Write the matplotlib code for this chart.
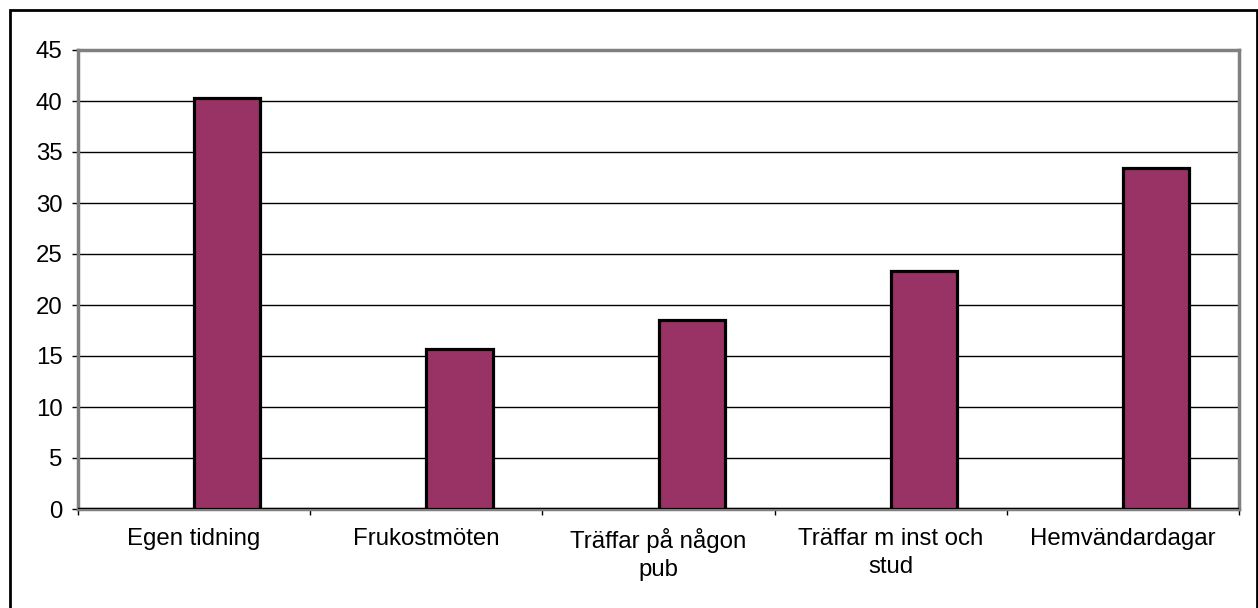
import numpy as np
import matplotlib
matplotlib.use('Agg')
import matplotlib.pyplot as plt
from matplotlib.patches import Rectangle

plt.rc('font', family=['Liberation Sans', 'DejaVu Sans'], size=17.3)

categories = ['Egen tidning', 'Frukostmöten', 'Träffar på någon\npub',
              'Träffar m inst och\nstud', 'Hemvändardagar']
values = [40.3, 15.7, 18.5, 23.3, 33.4]
yticks = [0, 5, 10, 15, 20, 25, 30, 35, 40, 45]

bar_color = '#993366'
frame_gray = '#808080'

fig = plt.figure(figsize=(12.58, 6.08), dpi=100)
ax = fig.add_axes([78 / 1258, 1 - 509 / 608, (1239 - 78) / 1258, (509 - 50) / 608])

x = np.arange(len(categories))
w = 1 / 3.5
ax.bar(x, values, width=w, align='edge', color=bar_color,
       edgecolor='black', linewidth=2.3, zorder=3)

ax.set_xlim(-0.5, len(categories) - 0.5)
ax.set_ylim(0, 45)
ax.set_yticks(yticks)
ax.yaxis.grid(True, color='black', linewidth=1.0, zorder=1)
ax.set_axisbelow(True)

ax.set_xticks(x)
ax.set_xticklabels(categories, linespacing=1.35)
ax.set_xticks(np.arange(len(categories) + 1) - 0.5, minor=True)
ax.tick_params(axis='x', which='major', length=0, pad=14)
ax.tick_params(axis='x', which='minor', length=4, width=1, color='black', direction='out')
ax.tick_params(axis='y', length=4, width=1, color='black', direction='out', pad=7)

for side in ['top', 'right', 'left', 'bottom']:
    ax.spines[side].set_color(frame_gray)
    ax.spines[side].set_linewidth(2.5)

# black zero line just above the grey base
ax.axhline(0.08, color='black', linewidth=1.0, zorder=2.6)

# outer chart border
fig.patches.append(Rectangle((9.5 / 1258, -0.02), (1256.5 - 9.5) / 1258, 1.02 - 9.5 / 608,
                             transform=fig.transFigure, fill=False,
                             edgecolor='black', linewidth=2.0))

fig.savefig('out.png', dpi=100)
